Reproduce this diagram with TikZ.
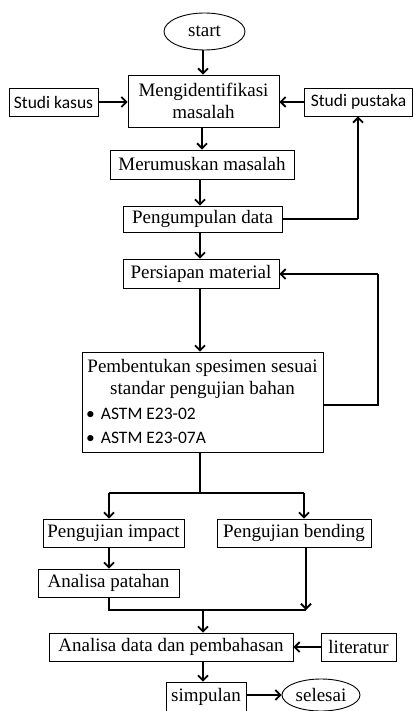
\documentclass[tikz,border=0pt]{standalone}
\usepackage{fontspec}
\setmainfont{Liberation Serif}
\newfontfamily\calibrifont{Carlito}
\usetikzlibrary{arrows.meta,shapes.geometric}
\tikzset{
  box/.style={draw, line width=0.9pt, inner sep=0pt, font=\fontsize{19}{22}\selectfont, align=center},
  sbox/.style={draw, line width=0.9pt, inner sep=0pt, font=\calibrifont\fontsize{17.5}{21}\selectfont, align=center},
  oval/.style={draw, ellipse, line width=0.9pt, inner sep=0pt, font=\fontsize{19}{22}\selectfont},
  conn/.style={line width=1.8pt, -{Straight Barb[length=5pt,width=10pt]}},
  line/.style={line width=1.8pt}
}
\begin{document}
\begin{tikzpicture}[x=1pt,y=-1pt]
\useasboundingbox (0,0) rectangle (413,711);
\node[oval, minimum width=81pt, minimum height=37pt] (start) at (204.5,31.5) {start};
\node[box, minimum width=151pt, minimum height=52pt] (ident) at (203.5,101) {Mengidentifikasi\\masalah};
\node[sbox, minimum width=89pt, minimum height=28pt] (kasus) at (53.5,102) {Studi kasus};
\node[sbox, minimum width=108pt, minimum height=28pt] (pustaka) at (358.5,102) {Studi pustaka};
\node[box, minimum width=184pt, minimum height=29pt] (rumus) at (202,164.5) {Merumuskan masalah};
\node[box, minimum width=159pt, minimum height=26pt] (kumpul) at (202.5,219) {Pengumpulan data};
\node[box, minimum width=156pt, minimum height=29pt] (siap) at (201,273.5) {Persiapan material};
\node[draw, line width=0.9pt, minimum width=241pt, minimum height=100pt] (bentuk) at (202.5,402) {};
\node[font=\fontsize{19}{22}\selectfont, align=center] (bentukt) at (202.5,378.5) {Pembentukan spesimen sesuai\\standar pengujian bahan};
\node[font=\calibrifont\fontsize{17.5}{21}\selectfont, anchor=west, inner sep=0pt] (b1) at (86,414) {\textbullet\hspace{6pt}ASTM E23-02};
\node[font=\calibrifont\fontsize{17.5}{21}\selectfont, anchor=west, inner sep=0pt] (b2) at (86,438) {\textbullet\hspace{6pt}ASTM E23-07A};
\node[box, minimum width=141pt, minimum height=28pt] (impact) at (113.5,533) {Pengujian impact};
\node[box, minimum width=154pt, minimum height=28pt] (bending) at (294,533) {Pengujian bending};
\node[box, minimum width=141pt, minimum height=28pt] (patah) at (108.5,583) {Analisa patahan};
\node[box, minimum width=244pt, minimum height=28pt] (analisa) at (171,647) {Analisa data dan pembahasan};
\node[box, minimum width=75pt, minimum height=28pt] (lit) at (358.5,647) {literatur};
\node[box, minimum width=80pt, minimum height=30pt] (simp) at (206,697) {simpulan};
\node[oval, minimum width=78pt, minimum height=32pt] (selesai) at (321,695) {selesai};
% coordinates
\coordinate (c1) at (203,0);
\coordinate (c2) at (200,0);
\coordinate (pk) at (358,219);
\coordinate (l1) at (378,405);
\coordinate (l2) at (378,274);
\coordinate (s) at (200,493);
\coordinate (sl) at (109,493);
\coordinate (sr) at (304,493);
\coordinate (m) at (109,610);
\coordinate (mr) at (306,610);
\coordinate (mc) at (203,610);
% connectors
\draw[conn] (start.south -| c1) -- (ident.north -| c1);
\draw[conn] (kasus.east) -- (kasus.east -| ident.west);
\draw[conn] (pustaka.west) -- (pustaka.west -| ident.east);
\draw[conn] (ident.south -| 202,0) -- (rumus.north -| 202,0);
\draw[conn] (rumus.south -| c2) -- (kumpul.north -| c2);
\draw[line] (kumpul.east |- pk) -- (pk);
\draw[conn] (pk) -- (pk |- pustaka.south);
\draw[conn] (kumpul.south -| c2) -- (siap.north -| c2);
\draw[conn] (siap.south -| c2) -- (bentuk.north -| c2);
\draw[line] (bentuk.east |- l1) -- (l1) -- (l2);
\draw[conn] (l2) -- (l2 -| siap.east);
\draw[line] (bentuk.south -| s) -- (s);
\draw[line] (sl) -- (sr);
\draw[conn] (sl) -- (sl |- impact.north);
\draw[conn] (sr) -- (sr |- bending.north);
\draw[conn] (impact.south -| sl) -- (patah.north -| sl);
\draw[line] (patah.south -| m) -- (m) -- (mr);
\draw[conn] (bending.south -| mr) -- (mr);
\draw[conn] (mc) -- (mc |- analisa.north);
\draw[conn] (lit.west) -- (lit.west -| analisa.east);
\draw[conn] (analisa.south -| mc) -- (simp.north -| mc);
\draw[conn] (simp.east |- selesai.west) -- (selesai.west);
\end{tikzpicture}
\end{document}
